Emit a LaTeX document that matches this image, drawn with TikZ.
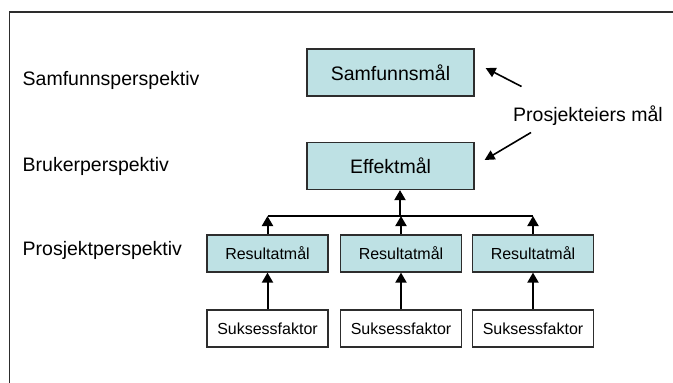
\documentclass[tikz,border=0pt]{standalone}
\usepackage{fontspec}
\setmainfont{Liberation Sans}
\usetikzlibrary{arrows.meta}
\definecolor{goalfill}{RGB}{190,225,228}
\definecolor{linegray}{RGB}{45,45,45}

\begin{document}
\begin{tikzpicture}[x = 1pt, y = -1pt]
\tikzstyle{GoalStyle}=[shape = rectangle,
                       draw = linegray, fill = goalfill,
                       line width = 1.2pt, inner sep = 0pt]
\tikzstyle{BigGoal}=[GoalStyle, minimum width = 167pt, minimum height = 47pt,
                     font = \fontsize{19.5}{22}\selectfont]
\tikzstyle{SmallGoal}=[GoalStyle, minimum width = 121pt, minimum height = 37pt,
                       font = \fontsize{16}{18}\selectfont]
\tikzstyle{FactorStyle}=[SmallGoal, fill = white]
\tikzstyle{LevelStyle}=[anchor = base west, inner sep = 0pt,
                        font = \fontsize{19.5}{22}\selectfont]
\tikzstyle{UpArrow}=[line width = 2pt, -{Triangle[width = 11pt, length = 10pt]}]
\tikzstyle{OwnerArrow}=[line width = 1.6pt, -{Triangle[width = 10pt, length = 10pt]}]
\useasboundingbox (0,0) rectangle (673,383);
\draw[line width = 1.2pt, linegray] (9.5,383) |- (673,12);
% levels
\node[LevelStyle] (l0) at (22.5,85) {Samfunnsperspektiv};
\node[LevelStyle] (l1) at (22.5,171) {Brukerperspektiv};
\node[LevelStyle] (l2) at (22.5,255) {Prosjektperspektiv};
% goals
\node[BigGoal] (s0) at (390.5,72.5) {Samfunnsmål};
\node[BigGoal] (e0) at (390.5,166) {Effektmål};
\node[SmallGoal] (r1) at (267.5,253.5) {Resultatmål};
\node[SmallGoal] (r2) at (401,253.5) {Resultatmål};
\node[SmallGoal] (r3) at (533,253.5) {Resultatmål};
\node[FactorStyle] (f1) at (267.5,328.5) {Suksessfaktor};
\node[FactorStyle] (f2) at (401,328.5) {Suksessfaktor};
\node[FactorStyle] (f3) at (533,328.5) {Suksessfaktor};
\node[LevelStyle] (owner) at (513,121) {Prosjekteiers mål};
\coordinate (hub) at (400,216);
\coordinate (t0) at (521.5,86.5);
\coordinate (t1) at (531,132.5);
\foreach \i in {1,2,3}{
  \draw[UpArrow] (f\i) -- (r\i);
  \draw[UpArrow] (r\i) -- (r\i.north |- hub);
}
\draw[line width = 1.2pt] (r1.north |- hub) -- (r3.north |- hub);
\draw[UpArrow] (hub) -- (hub |- e0.south);
\draw[OwnerArrow] (t0) -- ([shift = {(11pt,4.5pt)}]s0.east);
\draw[OwnerArrow] (t1) -- ([shift = {(10pt,6pt)}]e0.east);
\end{tikzpicture}
\end{document}
